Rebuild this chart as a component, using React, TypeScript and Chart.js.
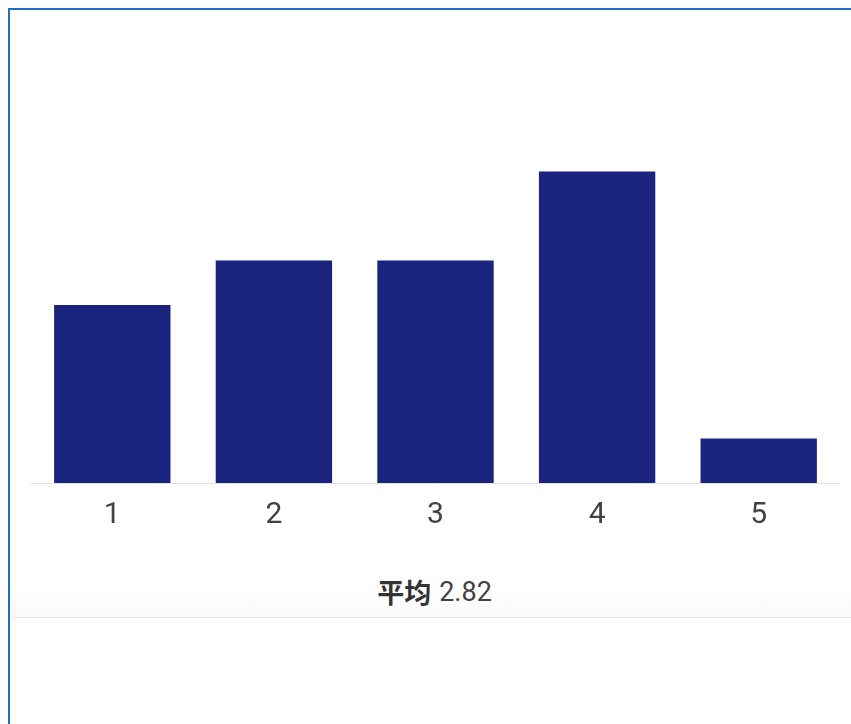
import React, { useEffect, useRef } from "react";
import { Chart, registerables } from "chart.js";

Chart.register(...registerables);

// Rating buckets and how many answers fell into each
const ratings = ["1", "2", "3", "4", "5"];
const counts = [4, 5, 5, 7, 1];
const averageLabel = "平均";
const averageValue = "2.82";

const BAR_COLOR = "#1a237e";

export default function App() {
  const canvasRef = useRef<HTMLCanvasElement | null>(null);

  useEffect(() => {
    if (!canvasRef.current) return;
    const chart = new Chart(canvasRef.current, {
      type: "bar",
      data: {
        labels: ratings,
        datasets: [
          {
            data: counts,
            backgroundColor: BAR_COLOR,
            borderWidth: 0,
          },
        ],
      },
      options: {
        animation: false,
        responsive: true,
        maintainAspectRatio: false,
        layout: { padding: { left: 21.5, right: 11.5, top: 117, bottom: 0 } },
        plugins: {
          legend: { display: false },
          tooltip: { enabled: false },
        },
        scales: {
          x: {
            grid: { display: false, drawTicks: false },
            border: { display: true, color: "#e0e0e0", width: 1 },
            ticks: {
              color: "#424242",
              padding: 14,
              font: { family: "Roboto", size: 30 },
            },
          },
          y: {
            display: false,
            min: 0,
            max: 8,
          },
        },
      },
    });
    return () => chart.destroy();
  }, []);

  return (
    <div
      style={{
        position: "fixed",
        inset: 0,
        overflow: "hidden",
        background: "#ffffff",
      }}
    >
      <div
        style={{
          position: "absolute",
          left: 8,
          top: 8,
          width: 900,
          height: 800,
          borderLeft: "2px solid #1b6fc2",
          borderTop: "2px solid #1b6fc2",
          background: "#ffffff",
        }}
      >
        <div
          style={{
            position: "absolute",
            left: 0,
            top: 0,
            width: 841,
            height: 537,
            background: "#ffffff",
          }}
        >
          <canvas ref={canvasRef} />
        </div>
        <div
          style={{
            position: "absolute",
            left: 0,
            top: 537,
            width: 900,
            height: 70,
            background: "linear-gradient(#ffffff 0%, #ffffff 56%, #fafafa 100%)",
            borderBottom: "1px solid #e8e8e8",
          }}
        >
          <div
            style={{
              position: "absolute",
              left: 0,
              top: 16,
              width: 849,
              height: 57,
              display: "flex",
              alignItems: "center",
              justifyContent: "center",
              fontSize: 27,
              color: "#424242",
              fontFamily: "Roboto, 'Noto Sans CJK SC', sans-serif",
            }}
          >
            <span
              style={{
                fontWeight: 700,
                color: "#333333",
                fontFamily: "'Noto Sans CJK SC', sans-serif",
                marginRight: 8,
              }}
            >
              {averageLabel}
            </span>
            <span>{averageValue}</span>
          </div>
        </div>
      </div>
    </div>
  );
}
